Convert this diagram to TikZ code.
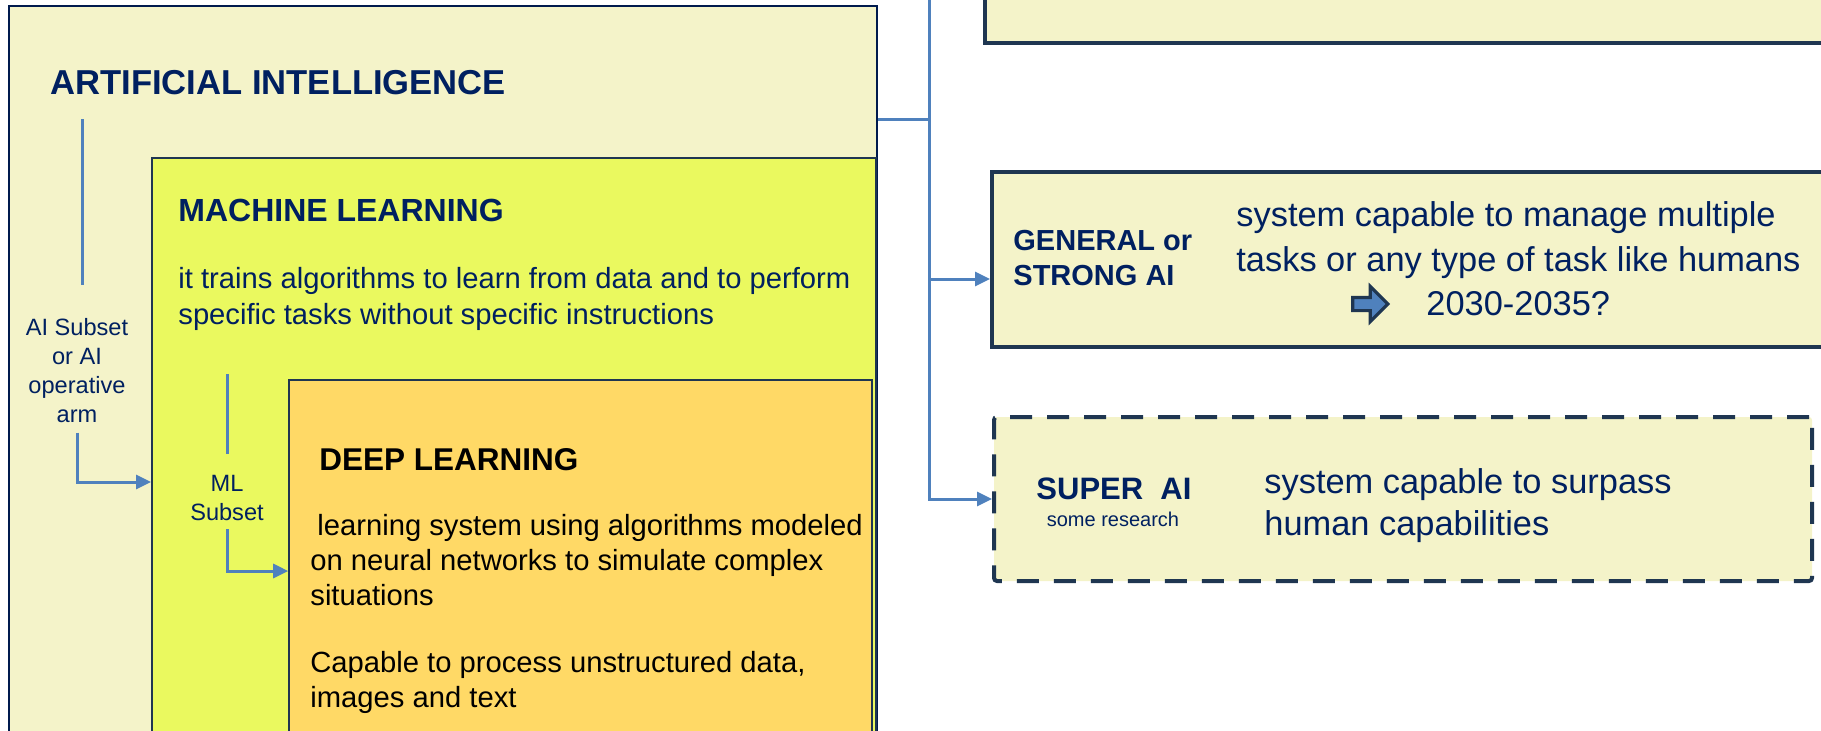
\documentclass[tikz,border=0pt]{standalone}
\usepackage{fontspec}
\setmainfont{Liberation Sans}
\usetikzlibrary{positioning,fit,arrows.meta,shapes.arrows}

\definecolor{aifill}{HTML}{F4F3C9}
\definecolor{mlfill}{HTML}{EAF95F}
\definecolor{dlfill}{HTML}{FFD966}
\definecolor{navytext}{HTML}{002060}
\definecolor{boxline}{HTML}{1F3651}
\definecolor{linkblue}{HTML}{4F81BD}

\begin{document}
\begin{tikzpicture}[x=0.5pt, y=-0.5pt,
  aibox/.style={draw=navytext!80!black, fill=aifill, line width=1.25pt, inner sep=0pt},
  mlbox/.style={draw=boxline, fill=mlfill, line width=1pt, inner sep=0pt},
  dlbox/.style={draw=boxline, fill=dlfill, line width=0.8pt, inner sep=0pt},
  rbox/.style={draw=boxline, fill=aifill, line width=2pt, inner sep=0pt},
  dashbox/.style={rbox, dash pattern=on 11pt off 7.5pt, rounded corners=1.5pt},
  link/.style={draw=linkblue, line width=1.5pt},
  tip/.style={-{Triangle[length=7.5pt,width=7pt]}},
  title/.style={anchor=base west, inner sep=0pt, text=navytext, font=\bfseries\fontsize{16}{19}\selectfont},
  desc/.style={anchor=base west, inner sep=0pt, align=left, text=navytext, font=\fontsize{14.6}{18}\selectfont},
  sub/.style={align=center, inner sep=4.5pt, text=navytext, font=\fontsize{11.8}{14.5}\selectfont},
  rhead/.style={inner sep=0pt, align=left, text=navytext, font=\bfseries\fontsize{14.5}{17.5}\selectfont},
  rtext/.style={anchor=base west, inner sep=0pt, align=left, text=navytext, font=\fontsize{17.2}{21}\selectfont}]

  \useasboundingbox (0,0) rectangle (1821,730);
  \clip (0,0) rectangle (1821,730);

  % 三层嵌套框
  \node[aibox, fit={(9,6) (877,780)}] (ai) {};
  \node[mlbox, fit={(152,158) (876,780)}] (ml) {};
  \node[dlbox, fit={(289,380) (872,780)}] (dl) {};

  % 标题与说明（多行文字以末行基线定位）
  \node[title, font=\bfseries\fontsize{17.3}{20}\selectfont] (aititle) at (50,94) {ARTIFICIAL INTELLIGENCE};
  \node[title] (mltitle) at (178,221) {MACHINE LEARNING};
  \node[desc] (mltext) at (178,324) {it trains algorithms to learn from data and to perform\\specific tasks without specific instructions};
  \node[title, text=black, font=\bfseries\fontsize{15.75}{19}\selectfont] (dltitle) at (319,470) {DEEP LEARNING};
  \node[desc, text=black, font=\fontsize{14.6}{17.5}\selectfont] (dltext) at (310,707)
    {\hspace*{3.5pt}learning system using algorithms modeled\\on neural networks to simulate complex\\situations\\[16pt]Capable to process unstructured data,\\images and text};

  % 子集标注
  \coordinate (aitop) at (82,119);
  \node[sub] (aisub) at (77,371) {AI Subset\\or AI\\operative\\arm};
  \draw[link] (aitop) -- ++(0,166);
  \draw[link, tip] (aisub.south) |- (ml.west |- 0,482);

  \coordinate (mltop) at (227,374);
  \node[sub, inner sep=4pt] (mlsub) at (227,498) {ML\\Subset};
  \draw[link] (mltop) -- ++(0,80);
  \draw[link, tip] (mlsub.south) |- (dl.west |- 0,571);

  % 右侧分类框
  \node[rbox, fit={(985,-80) (1900,43)}] (upper) {};
  \node[rbox, fit={(992,172) (1900,347)}] (general) {};
  \node[dashbox, fit={(994,417) (1812,581)}] (super) {};

  \node[rhead, anchor=base west] (gentitle) at (1013,285) {GENERAL or\\STRONG AI};
  \node[rtext, font=\fontsize{17.2}{22.5}\selectfont] (gentext) at (1236,271) {system capable to manage multiple\\tasks or any type of task like humans};
  \node[single arrow, draw=boxline, fill=linkblue, line width=1.6pt, inner sep=2.5pt,
        single arrow head extend=5.5pt, minimum height=17.5pt] (fut) at (1367,304) {};
  \node[rtext, anchor=west, right=18pt of fut] (year) {2030-2035?};

  \node[rhead, anchor=base, font=\bfseries\fontsize{15.5}{18}\selectfont] (supertitle) at (1114,499) {SUPER\ \ AI};
  \node[rhead, anchor=base, font=\fontsize{10}{12}\selectfont] (supernote) at (1113,526) {some research};
  \node[rtext] (supertext) at (1264,535) {system capable to surpass\\human capabilities};

  % 连线
  \coordinate (trunk) at (929,-40);
  \coordinate (hub) at (929,119);
  \coordinate (genin) at (general.west |- 0,279);
  \draw[link] (ai.east |- hub) -- (hub);
  \draw[link, tip] (trunk) |- (super.west);
  \draw[link, tip] (genin -| hub) -- (genin);
\end{tikzpicture}
\end{document}
